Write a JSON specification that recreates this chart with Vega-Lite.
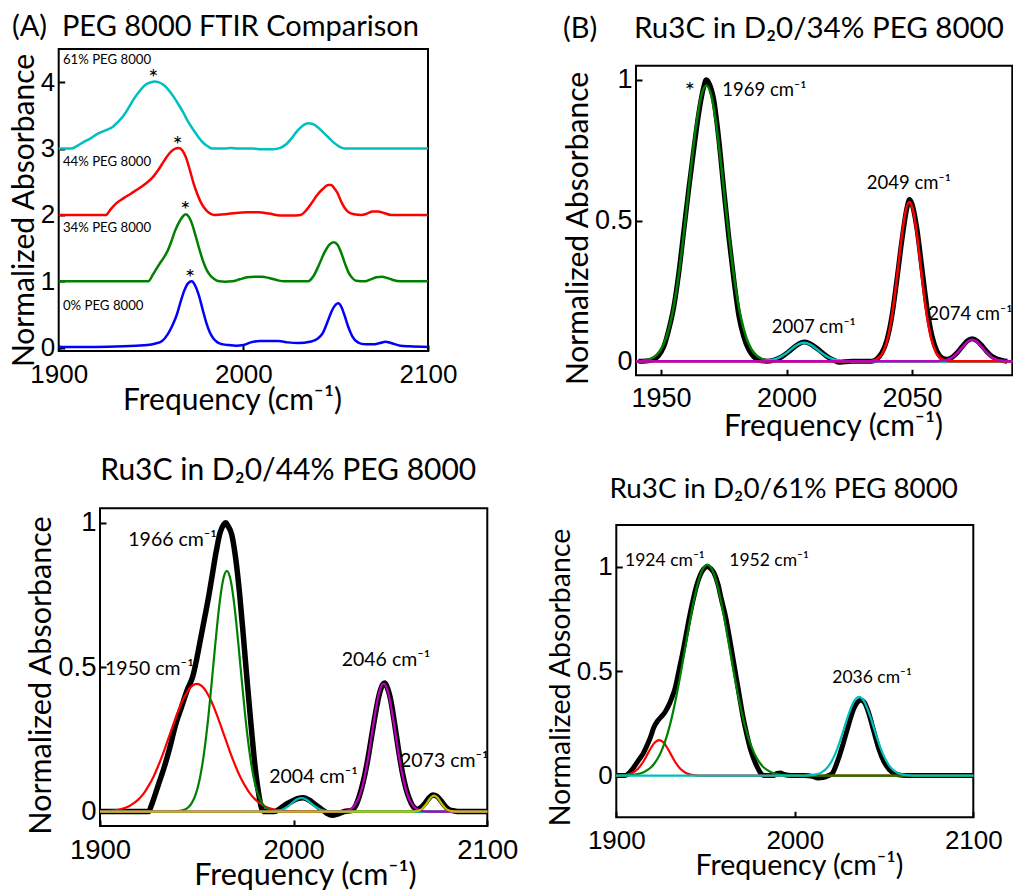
{
"$schema": "https://vega.github.io/schema/vega-lite/v6.json",
"width": 1013, "height": 890, "padding": 0, "autosize": {"type": "none"},
"background": "white",
"config": {
  "view": {"stroke": null},
  "axis": {"grid": false, "domain": false, "labelColor": "black", "titleColor": "black", "tickColor": "black", "tickWidth": 2, "labelFont": "Liberation Sans", "titleFont": "Lato", "titleFontWeight": "normal", "labelFlush": false, "labelOverlap": false},
  "text": {"font": "Lato", "color": "black"}
},
"datasets": {
"a": [
{"s":"0% PEG 8000","f":1900,"v":0.01},{"s":"0% PEG 8000","f":1920,"v":0.01},{"s":"0% PEG 8000","f":1935,"v":0.02},{"s":"0% PEG 8000","f":1942,"v":0.03},{"s":"0% PEG 8000","f":1948,"v":0.04},{"s":"0% PEG 8000","f":1952,"v":0.06},{"s":"0% PEG 8000","f":1956,"v":0.1},{"s":"0% PEG 8000","f":1959,"v":0.2},{"s":"0% PEG 8000","f":1962,"v":0.36},{"s":"0% PEG 8000","f":1964,"v":0.5},{"s":"0% PEG 8000","f":1966,"v":0.69},{"s":"0% PEG 8000","f":1968,"v":0.86},{"s":"0% PEG 8000","f":1970,"v":0.97},{"s":"0% PEG 8000","f":1972,"v":1.0},{"s":"0% PEG 8000","f":1974,"v":0.93},{"s":"0% PEG 8000","f":1976,"v":0.78},{"s":"0% PEG 8000","f":1978,"v":0.57},{"s":"0% PEG 8000","f":1980,"v":0.37},{"s":"0% PEG 8000","f":1982,"v":0.22},{"s":"0% PEG 8000","f":1984,"v":0.13},{"s":"0% PEG 8000","f":1986,"v":0.08},{"s":"0% PEG 8000","f":1989,"v":0.05},{"s":"0% PEG 8000","f":1992,"v":0.04},{"s":"0% PEG 8000","f":1996,"v":0.03},{"s":"0% PEG 8000","f":2000,"v":0.04},{"s":"0% PEG 8000","f":2004,"v":0.08},{"s":"0% PEG 8000","f":2009,"v":0.1},{"s":"0% PEG 8000","f":2014,"v":0.1},{"s":"0% PEG 8000","f":2019,"v":0.1},{"s":"0% PEG 8000","f":2024,"v":0.08},{"s":"0% PEG 8000","f":2030,"v":0.07},{"s":"0% PEG 8000","f":2036,"v":0.09},{"s":"0% PEG 8000","f":2040,"v":0.13},{"s":"0% PEG 8000","f":2043,"v":0.22},{"s":"0% PEG 8000","f":2046,"v":0.42},{"s":"0% PEG 8000","f":2048,"v":0.56},{"s":"0% PEG 8000","f":2050,"v":0.65},{"s":"0% PEG 8000","f":2051.5,"v":0.67},{"s":"0% PEG 8000","f":2053,"v":0.62},{"s":"0% PEG 8000","f":2055,"v":0.47},{"s":"0% PEG 8000","f":2057,"v":0.3},{"s":"0% PEG 8000","f":2059,"v":0.17},{"s":"0% PEG 8000","f":2062,"v":0.08},{"s":"0% PEG 8000","f":2066,"v":0.05},{"s":"0% PEG 8000","f":2070,"v":0.05},{"s":"0% PEG 8000","f":2074,"v":0.07},{"s":"0% PEG 8000","f":2077,"v":0.09},{"s":"0% PEG 8000","f":2080,"v":0.07},{"s":"0% PEG 8000","f":2085,"v":0.03},{"s":"0% PEG 8000","f":2090,"v":0.02},{"s":"0% PEG 8000","f":2100,"v":0.01},
{"s":"34% PEG 8000","f":1900,"v":1.0},{"s":"34% PEG 8000","f":1948.5,"v":1.0},{"s":"34% PEG 8000","f":1951,"v":1.1},{"s":"34% PEG 8000","f":1953,"v":1.19},{"s":"34% PEG 8000","f":1955,"v":1.28},{"s":"34% PEG 8000","f":1957,"v":1.36},{"s":"34% PEG 8000","f":1959,"v":1.46},{"s":"34% PEG 8000","f":1961,"v":1.6},{"s":"34% PEG 8000","f":1963,"v":1.76},{"s":"34% PEG 8000","f":1965,"v":1.88},{"s":"34% PEG 8000","f":1967,"v":1.97},{"s":"34% PEG 8000","f":1968.8,"v":2.01},{"s":"34% PEG 8000","f":1970.5,"v":1.97},{"s":"34% PEG 8000","f":1972,"v":1.88},{"s":"34% PEG 8000","f":1974,"v":1.7},{"s":"34% PEG 8000","f":1976,"v":1.5},{"s":"34% PEG 8000","f":1978,"v":1.32},{"s":"34% PEG 8000","f":1980,"v":1.18},{"s":"34% PEG 8000","f":1982,"v":1.09},{"s":"34% PEG 8000","f":1984,"v":1.04},{"s":"34% PEG 8000","f":1987,"v":1.0},{"s":"34% PEG 8000","f":1990,"v":0.995},{"s":"34% PEG 8000","f":1994,"v":1.0},{"s":"34% PEG 8000","f":1998,"v":1.03},{"s":"34% PEG 8000","f":2002,"v":1.06},{"s":"34% PEG 8000","f":2006,"v":1.07},{"s":"34% PEG 8000","f":2010,"v":1.07},{"s":"34% PEG 8000","f":2014,"v":1.05},{"s":"34% PEG 8000","f":2018,"v":1.02},{"s":"34% PEG 8000","f":2022,"v":1.0},{"s":"34% PEG 8000","f":2035,"v":1.0},{"s":"34% PEG 8000","f":2038,"v":1.08},{"s":"34% PEG 8000","f":2041,"v":1.25},{"s":"34% PEG 8000","f":2044,"v":1.44},{"s":"34% PEG 8000","f":2046.5,"v":1.55},{"s":"34% PEG 8000","f":2049,"v":1.59},{"s":"34% PEG 8000","f":2051,"v":1.55},{"s":"34% PEG 8000","f":2053,"v":1.43},{"s":"34% PEG 8000","f":2055,"v":1.27},{"s":"34% PEG 8000","f":2057,"v":1.13},{"s":"34% PEG 8000","f":2059,"v":1.05},{"s":"34% PEG 8000","f":2061,"v":1.01},{"s":"34% PEG 8000","f":2066,"v":1.0},{"s":"34% PEG 8000","f":2069,"v":1.03},{"s":"34% PEG 8000","f":2072,"v":1.06},{"s":"34% PEG 8000","f":2075,"v":1.07},{"s":"34% PEG 8000","f":2078,"v":1.05},{"s":"34% PEG 8000","f":2081,"v":1.02},{"s":"34% PEG 8000","f":2085,"v":1.0},{"s":"34% PEG 8000","f":2100,"v":1.0},
{"s":"44% PEG 8000","f":1900,"v":2.0},{"s":"44% PEG 8000","f":1925.6,"v":2.0},{"s":"44% PEG 8000","f":1928,"v":2.08},{"s":"44% PEG 8000","f":1931,"v":2.17},{"s":"44% PEG 8000","f":1935,"v":2.25},{"s":"44% PEG 8000","f":1939,"v":2.32},{"s":"44% PEG 8000","f":1943,"v":2.39},{"s":"44% PEG 8000","f":1947,"v":2.47},{"s":"44% PEG 8000","f":1951,"v":2.57},{"s":"44% PEG 8000","f":1954,"v":2.68},{"s":"44% PEG 8000","f":1957,"v":2.81},{"s":"44% PEG 8000","f":1960,"v":2.93},{"s":"44% PEG 8000","f":1962.5,"v":2.99},{"s":"44% PEG 8000","f":1965,"v":3.01},{"s":"44% PEG 8000","f":1967,"v":2.97},{"s":"44% PEG 8000","f":1969,"v":2.86},{"s":"44% PEG 8000","f":1971,"v":2.68},{"s":"44% PEG 8000","f":1973,"v":2.48},{"s":"44% PEG 8000","f":1975,"v":2.32},{"s":"44% PEG 8000","f":1977,"v":2.19},{"s":"44% PEG 8000","f":1979,"v":2.1},{"s":"44% PEG 8000","f":1981,"v":2.04},{"s":"44% PEG 8000","f":1984,"v":2.0},{"s":"44% PEG 8000","f":1990,"v":2.01},{"s":"44% PEG 8000","f":1996,"v":2.03},{"s":"44% PEG 8000","f":2002,"v":2.04},{"s":"44% PEG 8000","f":2008,"v":2.04},{"s":"44% PEG 8000","f":2014,"v":2.02},{"s":"44% PEG 8000","f":2020,"v":1.99},{"s":"44% PEG 8000","f":2026,"v":1.99},{"s":"44% PEG 8000","f":2031,"v":2.0},{"s":"44% PEG 8000","f":2034,"v":2.07},{"s":"44% PEG 8000","f":2037,"v":2.18},{"s":"44% PEG 8000","f":2040,"v":2.3},{"s":"44% PEG 8000","f":2043,"v":2.39},{"s":"44% PEG 8000","f":2046,"v":2.45},{"s":"44% PEG 8000","f":2047.5,"v":2.45},{"s":"44% PEG 8000","f":2049,"v":2.41},{"s":"44% PEG 8000","f":2051,"v":2.33},{"s":"44% PEG 8000","f":2053,"v":2.2},{"s":"44% PEG 8000","f":2055,"v":2.1},{"s":"44% PEG 8000","f":2057,"v":2.04},{"s":"44% PEG 8000","f":2060,"v":2.01},{"s":"44% PEG 8000","f":2064,"v":2.0},{"s":"44% PEG 8000","f":2067,"v":2.02},{"s":"44% PEG 8000","f":2070,"v":2.05},{"s":"44% PEG 8000","f":2073,"v":2.05},{"s":"44% PEG 8000","f":2076,"v":2.03},{"s":"44% PEG 8000","f":2080,"v":2.0},{"s":"44% PEG 8000","f":2100,"v":2.0},
{"s":"61% PEG 8000","f":1900,"v":3.0},{"s":"61% PEG 8000","f":1907,"v":3.0},{"s":"61% PEG 8000","f":1910,"v":3.04},{"s":"61% PEG 8000","f":1913,"v":3.09},{"s":"61% PEG 8000","f":1917,"v":3.15},{"s":"61% PEG 8000","f":1921,"v":3.22},{"s":"61% PEG 8000","f":1925,"v":3.27},{"s":"61% PEG 8000","f":1929,"v":3.32},{"s":"61% PEG 8000","f":1932,"v":3.4},{"s":"61% PEG 8000","f":1935,"v":3.49},{"s":"61% PEG 8000","f":1938,"v":3.62},{"s":"61% PEG 8000","f":1941,"v":3.76},{"s":"61% PEG 8000","f":1944,"v":3.87},{"s":"61% PEG 8000","f":1947,"v":3.96},{"s":"61% PEG 8000","f":1950,"v":4.0},{"s":"61% PEG 8000","f":1952,"v":4.01},{"s":"61% PEG 8000","f":1954,"v":4.0},{"s":"61% PEG 8000","f":1956.7,"v":3.96},{"s":"61% PEG 8000","f":1959,"v":3.9},{"s":"61% PEG 8000","f":1962,"v":3.79},{"s":"61% PEG 8000","f":1965,"v":3.66},{"s":"61% PEG 8000","f":1967.5,"v":3.54},{"s":"61% PEG 8000","f":1970,"v":3.41},{"s":"61% PEG 8000","f":1973,"v":3.28},{"s":"61% PEG 8000","f":1976,"v":3.16},{"s":"61% PEG 8000","f":1978.5,"v":3.08},{"s":"61% PEG 8000","f":1981,"v":3.03},{"s":"61% PEG 8000","f":1983,"v":3.0},{"s":"61% PEG 8000","f":1990,"v":3.0},{"s":"61% PEG 8000","f":1993,"v":3.01},{"s":"61% PEG 8000","f":1997,"v":3.0},{"s":"61% PEG 8000","f":2005,"v":3.0},{"s":"61% PEG 8000","f":2010,"v":2.99},{"s":"61% PEG 8000","f":2016,"v":2.99},{"s":"61% PEG 8000","f":2020,"v":3.01},{"s":"61% PEG 8000","f":2023,"v":3.06},{"s":"61% PEG 8000","f":2026,"v":3.15},{"s":"61% PEG 8000","f":2029,"v":3.26},{"s":"61% PEG 8000","f":2032,"v":3.34},{"s":"61% PEG 8000","f":2035,"v":3.38},{"s":"61% PEG 8000","f":2037.5,"v":3.37},{"s":"61% PEG 8000","f":2040,"v":3.33},{"s":"61% PEG 8000","f":2043,"v":3.25},{"s":"61% PEG 8000","f":2046,"v":3.17},{"s":"61% PEG 8000","f":2049,"v":3.09},{"s":"61% PEG 8000","f":2052,"v":3.03},{"s":"61% PEG 8000","f":2055,"v":3.0},{"s":"61% PEG 8000","f":2100,"v":3.0}
],
"b": [
{"s":"data","f":1941,"v":0},{"s":"data","f":1944,"v":0.001},{"s":"data","f":1947,"v":0.006},{"s":"data","f":1949,"v":0.02},{"s":"data","f":1951,"v":0.05},{"s":"data","f":1953,"v":0.11},{"s":"data","f":1955,"v":0.19},{"s":"data","f":1957,"v":0.31},{"s":"data","f":1959,"v":0.46},{"s":"data","f":1961,"v":0.61},{"s":"data","f":1963,"v":0.75},{"s":"data","f":1965,"v":0.88},{"s":"data","f":1967,"v":0.975},{"s":"data","f":1968,"v":1.0},{"s":"data","f":1969,"v":0.99},{"s":"data","f":1971,"v":0.93},{"s":"data","f":1973,"v":0.79},{"s":"data","f":1975,"v":0.61},{"s":"data","f":1977,"v":0.44},{"s":"data","f":1979,"v":0.29},{"s":"data","f":1981,"v":0.16},{"s":"data","f":1983,"v":0.085},{"s":"data","f":1985,"v":0.04},{"s":"data","f":1987,"v":0.015},{"s":"data","f":1989,"v":0.004},{"s":"data","f":1992,"v":0},{"s":"data","f":1995,"v":0.004},{"s":"data","f":1998,"v":0.015},{"s":"data","f":2001,"v":0.035},{"s":"data","f":2003,"v":0.05},{"s":"data","f":2005,"v":0.062},{"s":"data","f":2007,"v":0.068},{"s":"data","f":2009,"v":0.064},{"s":"data","f":2011,"v":0.053},{"s":"data","f":2013,"v":0.04},{"s":"data","f":2015,"v":0.025},{"s":"data","f":2017,"v":0.012},{"s":"data","f":2019,"v":0.003},{"s":"data","f":2021,"v":-0.004},{"s":"data","f":2023,"v":-0.002},{"s":"data","f":2026,"v":0},{"s":"data","f":2034,"v":0},{"s":"data","f":2036,"v":0.008},{"s":"data","f":2038,"v":0.03},{"s":"data","f":2040,"v":0.075},{"s":"data","f":2042,"v":0.16},{"s":"data","f":2044,"v":0.29},{"s":"data","f":2046,"v":0.43},{"s":"data","f":2048,"v":0.545},{"s":"data","f":2049,"v":0.575},{"s":"data","f":2050,"v":0.56},{"s":"data","f":2052,"v":0.47},{"s":"data","f":2054,"v":0.33},{"s":"data","f":2056,"v":0.19},{"s":"data","f":2058,"v":0.09},{"s":"data","f":2060,"v":0.035},{"s":"data","f":2062,"v":0.012},{"s":"data","f":2064,"v":0.007},{"s":"data","f":2066,"v":0.014},{"s":"data","f":2068,"v":0.03},{"s":"data","f":2070,"v":0.052},{"s":"data","f":2072,"v":0.072},{"s":"data","f":2074,"v":0.08},{"s":"data","f":2076,"v":0.072},{"s":"data","f":2078,"v":0.054},{"s":"data","f":2080,"v":0.033},{"s":"data","f":2082,"v":0.017},{"s":"data","f":2084,"v":0.008},{"s":"data","f":2086,"v":0.003},{"s":"data","f":2088,"v":0},
{"s":"1969","f":1940,"v":0},{"s":"1969","f":1943,"v":0.002},{"s":"1969","f":1946,"v":0.009},{"s":"1969","f":1948,"v":0.021},{"s":"1969","f":1950,"v":0.043},{"s":"1969","f":1952,"v":0.083},{"s":"1969","f":1954,"v":0.148},{"s":"1969","f":1956,"v":0.244},{"s":"1969","f":1958,"v":0.374},{"s":"1969","f":1960,"v":0.528},{"s":"1969","f":1962,"v":0.693},{"s":"1969","f":1964,"v":0.84},{"s":"1969","f":1966,"v":0.943},{"s":"1969","f":1968,"v":0.98},{"s":"1969","f":1970,"v":0.943},{"s":"1969","f":1972,"v":0.84},{"s":"1969","f":1974,"v":0.693},{"s":"1969","f":1976,"v":0.528},{"s":"1969","f":1978,"v":0.374},{"s":"1969","f":1980,"v":0.244},{"s":"1969","f":1982,"v":0.148},{"s":"1969","f":1984,"v":0.083},{"s":"1969","f":1986,"v":0.043},{"s":"1969","f":1988,"v":0.021},{"s":"1969","f":1990,"v":0.009},{"s":"1969","f":1993,"v":0.002},{"s":"1969","f":1996,"v":0},{"s":"1969","f":2090,"v":0},
{"s":"2007","f":1940,"v":0},{"s":"2007","f":1991,"v":0},{"s":"2007","f":1993,"v":0.0026},{"s":"2007","f":1995,"v":0.0061},{"s":"2007","f":1997,"v":0.0127},{"s":"2007","f":1999,"v":0.023},{"s":"2007","f":2001,"v":0.0365},{"s":"2007","f":2003,"v":0.0507},{"s":"2007","f":2005,"v":0.0617},{"s":"2007","f":2007,"v":0.066},{"s":"2007","f":2009,"v":0.0617},{"s":"2007","f":2011,"v":0.0507},{"s":"2007","f":2013,"v":0.0365},{"s":"2007","f":2015,"v":0.023},{"s":"2007","f":2017,"v":0.0127},{"s":"2007","f":2019,"v":0.0061},{"s":"2007","f":2021,"v":0.0026},{"s":"2007","f":2023,"v":0},{"s":"2007","f":2090,"v":0},
{"s":"2049","f":1940,"v":0},{"s":"2049","f":2033,"v":0},{"s":"2049","f":2035,"v":0.004},{"s":"2049","f":2037,"v":0.014},{"s":"2049","f":2038.5,"v":0.033},{"s":"2049","f":2040,"v":0.07},{"s":"2049","f":2041.5,"v":0.132},{"s":"2049","f":2043,"v":0.223},{"s":"2049","f":2044.5,"v":0.335},{"s":"2049","f":2046,"v":0.449},{"s":"2049","f":2047.5,"v":0.534},{"s":"2049","f":2049,"v":0.566},{"s":"2049","f":2050.5,"v":0.534},{"s":"2049","f":2052,"v":0.449},{"s":"2049","f":2053.5,"v":0.335},{"s":"2049","f":2055,"v":0.223},{"s":"2049","f":2056.5,"v":0.132},{"s":"2049","f":2058,"v":0.07},{"s":"2049","f":2059.5,"v":0.033},{"s":"2049","f":2061,"v":0.014},{"s":"2049","f":2063,"v":0.004},{"s":"2049","f":2065,"v":0},{"s":"2049","f":2090,"v":0},
{"s":"2074","f":1940,"v":0},{"s":"2074","f":2060,"v":0},{"s":"2074","f":2062,"v":0.002},{"s":"2074","f":2064,"v":0.005},{"s":"2074","f":2066,"v":0.013},{"s":"2074","f":2068,"v":0.029},{"s":"2074","f":2070,"v":0.049},{"s":"2074","f":2072,"v":0.068},{"s":"2074","f":2074,"v":0.076},{"s":"2074","f":2076,"v":0.068},{"s":"2074","f":2078,"v":0.049},{"s":"2074","f":2080,"v":0.029},{"s":"2074","f":2082,"v":0.013},{"s":"2074","f":2084,"v":0.005},{"s":"2074","f":2086,"v":0.002},{"s":"2074","f":2088,"v":0},{"s":"2074","f":2090,"v":0}
],
"c": [
{"s":"data","f":1900,"v":0},{"s":"data","f":1925,"v":0},{"s":"data","f":1927,"v":0.03},{"s":"data","f":1930,"v":0.09},{"s":"data","f":1933,"v":0.15},{"s":"data","f":1936,"v":0.22},{"s":"data","f":1939,"v":0.3},{"s":"data","f":1942,"v":0.36},{"s":"data","f":1945,"v":0.42},{"s":"data","f":1948,"v":0.47},{"s":"data","f":1950,"v":0.53},{"s":"data","f":1952,"v":0.6},{"s":"data","f":1954,"v":0.67},{"s":"data","f":1956,"v":0.74},{"s":"data","f":1958,"v":0.82},{"s":"data","f":1960,"v":0.9},{"s":"data","f":1962,"v":0.965},{"s":"data","f":1964,"v":0.995},{"s":"data","f":1965,"v":1.0},{"s":"data","f":1966,"v":0.99},{"s":"data","f":1968,"v":0.96},{"s":"data","f":1970,"v":0.88},{"s":"data","f":1972,"v":0.76},{"s":"data","f":1974,"v":0.61},{"s":"data","f":1976,"v":0.45},{"s":"data","f":1978,"v":0.3},{"s":"data","f":1980,"v":0.16},{"s":"data","f":1982,"v":0.06},{"s":"data","f":1983.5,"v":0.01},{"s":"data","f":1985,"v":0},{"s":"data","f":1990,"v":0},{"s":"data","f":1993,"v":0.01},{"s":"data","f":1996,"v":0.025},{"s":"data","f":1999,"v":0.035},{"s":"data","f":2002,"v":0.045},{"s":"data","f":2005,"v":0.048},{"s":"data","f":2008,"v":0.04},{"s":"data","f":2011,"v":0.025},{"s":"data","f":2014,"v":0.01},{"s":"data","f":2017,"v":-0.005},{"s":"data","f":2020,"v":-0.013},{"s":"data","f":2023,"v":-0.008},{"s":"data","f":2026,"v":0},{"s":"data","f":2030,"v":0.004},{"s":"data","f":2032,"v":0.02},{"s":"data","f":2034,"v":0.055},{"s":"data","f":2036,"v":0.105},{"s":"data","f":2038,"v":0.17},{"s":"data","f":2040,"v":0.25},{"s":"data","f":2042,"v":0.33},{"s":"data","f":2044,"v":0.4},{"s":"data","f":2046,"v":0.44},{"s":"data","f":2047,"v":0.445},{"s":"data","f":2048,"v":0.435},{"s":"data","f":2050,"v":0.39},{"s":"data","f":2052,"v":0.31},{"s":"data","f":2054,"v":0.22},{"s":"data","f":2056,"v":0.14},{"s":"data","f":2058,"v":0.08},{"s":"data","f":2060,"v":0.04},{"s":"data","f":2062,"v":0.015},{"s":"data","f":2064,"v":0.008},{"s":"data","f":2066,"v":0.015},{"s":"data","f":2068,"v":0.03},{"s":"data","f":2070,"v":0.048},{"s":"data","f":2072,"v":0.057},{"s":"data","f":2074,"v":0.053},{"s":"data","f":2076,"v":0.038},{"s":"data","f":2078,"v":0.02},{"s":"data","f":2080,"v":0.008},{"s":"data","f":2083,"v":0.002},{"s":"data","f":2086,"v":0},{"s":"data","f":2100,"v":0},
{"s":"1950","f":1900,"v":0.0007},{"s":"1950","f":1905,"v":0.0023},{"s":"1950","f":1910,"v":0.007},{"s":"1950","f":1915,"v":0.0186},{"s":"1950","f":1917.5,"v":0.029},{"s":"1950","f":1920,"v":0.043},{"s":"1950","f":1922.5,"v":0.062},{"s":"1950","f":1925,"v":0.088},{"s":"1950","f":1927.5,"v":0.119},{"s":"1950","f":1930,"v":0.157},{"s":"1950","f":1932.5,"v":0.2},{"s":"1950","f":1935,"v":0.247},{"s":"1950","f":1937.5,"v":0.295},{"s":"1950","f":1940,"v":0.341},{"s":"1950","f":1942.5,"v":0.382},{"s":"1950","f":1945,"v":0.414},{"s":"1950","f":1947.5,"v":0.435},{"s":"1950","f":1950,"v":0.442},{"s":"1950","f":1952.5,"v":0.435},{"s":"1950","f":1955,"v":0.414},{"s":"1950","f":1957.5,"v":0.382},{"s":"1950","f":1960,"v":0.341},{"s":"1950","f":1962.5,"v":0.295},{"s":"1950","f":1965,"v":0.247},{"s":"1950","f":1967.5,"v":0.2},{"s":"1950","f":1970,"v":0.157},{"s":"1950","f":1972.5,"v":0.119},{"s":"1950","f":1975,"v":0.088},{"s":"1950","f":1977.5,"v":0.062},{"s":"1950","f":1980,"v":0.043},{"s":"1950","f":1982.5,"v":0.029},{"s":"1950","f":1985,"v":0.0186},{"s":"1950","f":1990,"v":0.007},{"s":"1950","f":1995,"v":0.0023},{"s":"1950","f":2000,"v":0.0007},{"s":"1950","f":2005,"v":0},{"s":"1950","f":2100,"v":0},
{"s":"1966","f":1900,"v":0},{"s":"1966","f":1935,"v":0},{"s":"1966","f":1940.5,"v":0.0014},{"s":"1966","f":1943.5,"v":0.006},{"s":"1966","f":1945.5,"v":0.014},{"s":"1966","f":1947.5,"v":0.031},{"s":"1966","f":1949.5,"v":0.061},{"s":"1966","f":1951.5,"v":0.113},{"s":"1966","f":1953.5,"v":0.192},{"s":"1966","f":1955.5,"v":0.3},{"s":"1966","f":1957.5,"v":0.434},{"s":"1966","f":1959.5,"v":0.577},{"s":"1966","f":1961.5,"v":0.708},{"s":"1966","f":1963.5,"v":0.8},{"s":"1966","f":1965.5,"v":0.833},{"s":"1966","f":1967.5,"v":0.8},{"s":"1966","f":1969.5,"v":0.708},{"s":"1966","f":1971.5,"v":0.577},{"s":"1966","f":1973.5,"v":0.434},{"s":"1966","f":1975.5,"v":0.3},{"s":"1966","f":1977.5,"v":0.192},{"s":"1966","f":1979.5,"v":0.113},{"s":"1966","f":1981.5,"v":0.061},{"s":"1966","f":1983.5,"v":0.031},{"s":"1966","f":1985.5,"v":0.014},{"s":"1966","f":1987.5,"v":0.006},{"s":"1966","f":1990.5,"v":0.0014},{"s":"1966","f":1995,"v":0},{"s":"1966","f":2100,"v":0},
{"s":"2004","f":1900,"v":0},{"s":"2004","f":1988,"v":0},{"s":"2004","f":1990,"v":0.0009},{"s":"2004","f":1992,"v":0.0026},{"s":"2004","f":1994,"v":0.0064},{"s":"2004","f":1996,"v":0.0131},{"s":"2004","f":1998,"v":0.0229},{"s":"2004","f":2000,"v":0.0341},{"s":"2004","f":2002,"v":0.0434},{"s":"2004","f":2004,"v":0.047},{"s":"2004","f":2006,"v":0.0434},{"s":"2004","f":2008,"v":0.0341},{"s":"2004","f":2010,"v":0.0229},{"s":"2004","f":2012,"v":0.0131},{"s":"2004","f":2014,"v":0.0064},{"s":"2004","f":2016,"v":0.0026},{"s":"2004","f":2018,"v":0.0009},{"s":"2004","f":2020,"v":0},{"s":"2004","f":2100,"v":0},
{"s":"2046","f":1900,"v":0},{"s":"2046","f":2024,"v":0},{"s":"2046","f":2026.5,"v":0.002},{"s":"2046","f":2028.5,"v":0.0057},{"s":"2046","f":2030.5,"v":0.014},{"s":"2046","f":2032.5,"v":0.032},{"s":"2046","f":2034.5,"v":0.064},{"s":"2046","f":2036.5,"v":0.116},{"s":"2046","f":2038.5,"v":0.187},{"s":"2046","f":2040.5,"v":0.273},{"s":"2046","f":2042.5,"v":0.357},{"s":"2046","f":2044.5,"v":0.42},{"s":"2046","f":2046.5,"v":0.443},{"s":"2046","f":2048.5,"v":0.42},{"s":"2046","f":2050.5,"v":0.357},{"s":"2046","f":2052.5,"v":0.273},{"s":"2046","f":2054.5,"v":0.187},{"s":"2046","f":2056.5,"v":0.116},{"s":"2046","f":2058.5,"v":0.064},{"s":"2046","f":2060.5,"v":0.032},{"s":"2046","f":2062.5,"v":0.014},{"s":"2046","f":2064.5,"v":0.0057},{"s":"2046","f":2066.5,"v":0.002},{"s":"2046","f":2069,"v":0},{"s":"2046","f":2100,"v":0},
{"s":"2073","f":1900,"v":0},{"s":"2073","f":2061.5,"v":0},{"s":"2073","f":2063.5,"v":0.0013},{"s":"2073","f":2065,"v":0.0042},{"s":"2073","f":2066.5,"v":0.0106},{"s":"2073","f":2068,"v":0.0217},{"s":"2073","f":2069.5,"v":0.0364},{"s":"2073","f":2071,"v":0.0496},{"s":"2073","f":2072.5,"v":0.055},{"s":"2073","f":2074,"v":0.0496},{"s":"2073","f":2075.5,"v":0.0364},{"s":"2073","f":2077,"v":0.0217},{"s":"2073","f":2078.5,"v":0.0106},{"s":"2073","f":2080,"v":0.0042},{"s":"2073","f":2081.5,"v":0.0013},{"s":"2073","f":2083.5,"v":0},{"s":"2073","f":2100,"v":0}
],
"d": [
{"s":"data","f":1900,"v":0},{"s":"data","f":1905,"v":0},{"s":"data","f":1907,"v":0.01},{"s":"data","f":1909,"v":0.03},{"s":"data","f":1911,"v":0.055},{"s":"data","f":1913,"v":0.08},{"s":"data","f":1915,"v":0.105},{"s":"data","f":1917,"v":0.14},{"s":"data","f":1919,"v":0.18},{"s":"data","f":1921,"v":0.23},{"s":"data","f":1923,"v":0.26},{"s":"data","f":1925,"v":0.28},{"s":"data","f":1927,"v":0.3},{"s":"data","f":1929,"v":0.33},{"s":"data","f":1931,"v":0.37},{"s":"data","f":1933,"v":0.42},{"s":"data","f":1935,"v":0.5},{"s":"data","f":1937,"v":0.58},{"s":"data","f":1939,"v":0.67},{"s":"data","f":1941,"v":0.76},{"s":"data","f":1943,"v":0.84},{"s":"data","f":1945,"v":0.91},{"s":"data","f":1947,"v":0.96},{"s":"data","f":1949,"v":0.99},{"s":"data","f":1951,"v":1.0},{"s":"data","f":1953,"v":0.99},{"s":"data","f":1955,"v":0.965},{"s":"data","f":1957,"v":0.915},{"s":"data","f":1959,"v":0.84},{"s":"data","f":1961,"v":0.77},{"s":"data","f":1963,"v":0.68},{"s":"data","f":1965,"v":0.58},{"s":"data","f":1967,"v":0.48},{"s":"data","f":1969,"v":0.38},{"s":"data","f":1971,"v":0.28},{"s":"data","f":1973,"v":0.2},{"s":"data","f":1975,"v":0.13},{"s":"data","f":1977,"v":0.08},{"s":"data","f":1979,"v":0.04},{"s":"data","f":1981,"v":0.01},{"s":"data","f":1982.5,"v":0},{"s":"data","f":1988,"v":0},{"s":"data","f":1990,"v":0.01},{"s":"data","f":1992,"v":0.012},{"s":"data","f":1994,"v":0.005},{"s":"data","f":1998,"v":0},{"s":"data","f":2005,"v":0},{"s":"data","f":2010,"v":-0.004},{"s":"data","f":2013,"v":-0.012},{"s":"data","f":2016,"v":-0.01},{"s":"data","f":2019,"v":0},{"s":"data","f":2021,"v":0.01},{"s":"data","f":2024,"v":0.07},{"s":"data","f":2027,"v":0.15},{"s":"data","f":2030,"v":0.24},{"s":"data","f":2033,"v":0.32},{"s":"data","f":2035,"v":0.35},{"s":"data","f":2037,"v":0.361},{"s":"data","f":2039,"v":0.35},{"s":"data","f":2041,"v":0.31},{"s":"data","f":2044,"v":0.22},{"s":"data","f":2047,"v":0.13},{"s":"data","f":2050,"v":0.065},{"s":"data","f":2053,"v":0.028},{"s":"data","f":2056,"v":0.01},{"s":"data","f":2059,"v":0.002},{"s":"data","f":2062,"v":0},{"s":"data","f":2100,"v":0},
{"s":"1924","f":1900,"v":0},{"s":"1924","f":1903,"v":0.0009},{"s":"1924","f":1906,"v":0.0037},{"s":"1924","f":1909,"v":0.012},{"s":"1924","f":1912,"v":0.031},{"s":"1924","f":1915,"v":0.065},{"s":"1924","f":1918,"v":0.111},{"s":"1924","f":1921,"v":0.153},{"s":"1924","f":1924,"v":0.17},{"s":"1924","f":1927,"v":0.153},{"s":"1924","f":1930,"v":0.111},{"s":"1924","f":1933,"v":0.065},{"s":"1924","f":1936,"v":0.031},{"s":"1924","f":1939,"v":0.012},{"s":"1924","f":1942,"v":0.0037},{"s":"1924","f":1945,"v":0.0009},{"s":"1924","f":1948,"v":0},{"s":"1924","f":2100,"v":0},
{"s":"1952","f":1900,"v":0},{"s":"1952","f":1901,"v":0.0003},{"s":"1952","f":1907,"v":0.002},{"s":"1952","f":1911,"v":0.0056},{"s":"1952","f":1915,"v":0.015},{"s":"1952","f":1919,"v":0.036},{"s":"1952","f":1921,"v":0.054},{"s":"1952","f":1923,"v":0.079},{"s":"1952","f":1925,"v":0.112},{"s":"1952","f":1927,"v":0.155},{"s":"1952","f":1929,"v":0.209},{"s":"1952","f":1931,"v":0.275},{"s":"1952","f":1933,"v":0.352},{"s":"1952","f":1935,"v":0.439},{"s":"1952","f":1937,"v":0.534},{"s":"1952","f":1939,"v":0.632},{"s":"1952","f":1941,"v":0.73},{"s":"1952","f":1943,"v":0.82},{"s":"1952","f":1945,"v":0.898},{"s":"1952","f":1947,"v":0.959},{"s":"1952","f":1949,"v":0.997},{"s":"1952","f":1951,"v":1.01},{"s":"1952","f":1953,"v":0.997},{"s":"1952","f":1955,"v":0.959},{"s":"1952","f":1957,"v":0.898},{"s":"1952","f":1959,"v":0.82},{"s":"1952","f":1961,"v":0.73},{"s":"1952","f":1963,"v":0.632},{"s":"1952","f":1965,"v":0.534},{"s":"1952","f":1967,"v":0.439},{"s":"1952","f":1969,"v":0.352},{"s":"1952","f":1971,"v":0.275},{"s":"1952","f":1973,"v":0.209},{"s":"1952","f":1975,"v":0.155},{"s":"1952","f":1977,"v":0.112},{"s":"1952","f":1979,"v":0.079},{"s":"1952","f":1981,"v":0.054},{"s":"1952","f":1983,"v":0.036},{"s":"1952","f":1987,"v":0.015},{"s":"1952","f":1991,"v":0.0056},{"s":"1952","f":1995,"v":0.002},{"s":"1952","f":2001,"v":0.0003},{"s":"1952","f":2008,"v":0},{"s":"1952","f":2100,"v":0},
{"s":"2036","f":1900,"v":0},{"s":"2036","f":2006,"v":0},{"s":"2036","f":2009,"v":0.0019},{"s":"2036","f":2012,"v":0.0058},{"s":"2036","f":2015,"v":0.015},{"s":"2036","f":2018,"v":0.036},{"s":"2036","f":2021,"v":0.074},{"s":"2036","f":2024,"v":0.133},{"s":"2036","f":2027,"v":0.209},{"s":"2036","f":2030,"v":0.29},{"s":"2036","f":2033,"v":0.353},{"s":"2036","f":2036,"v":0.377},{"s":"2036","f":2039,"v":0.353},{"s":"2036","f":2042,"v":0.29},{"s":"2036","f":2045,"v":0.209},{"s":"2036","f":2048,"v":0.133},{"s":"2036","f":2051,"v":0.074},{"s":"2036","f":2054,"v":0.036},{"s":"2036","f":2057,"v":0.015},{"s":"2036","f":2060,"v":0.0058},{"s":"2036","f":2063,"v":0.0019},{"s":"2036","f":2066,"v":0},{"s":"2036","f":2100,"v":0}
]
},
"layer": [
{
 "encoding": {
  "x": {"field": "f", "type": "quantitative", "scale": {"domain": [1900, 2100], "range": [58.7, 428], "nice": false, "zero": false},
        "axis": {"orient": "bottom", "offset": -539, "values": [1900, 2000, 2100], "format": "d", "title": "Frequency (cm⁻¹)", "labelFont": "Liberation Sans", "labelFontSize": 26, "titleFontSize": 30, "tickSize": -6, "labelPadding": 16, "titlePadding": -2, "titleX": 232}},
  "y": {"field": "v", "type": "quantitative", "scale": {"domain": [-0.05, 4.5], "range": [351, 49], "nice": false, "zero": false},
        "axis": {"orient": "left", "offset": -58.7, "values": [0, 1, 2, 3, 4], "format": "~g", "title": "Normalized Absorbance", "labelFont": "Liberation Sans", "labelFontSize": 26, "titleFontSize": 30, "tickSize": -6, "labelPadding": 10, "titlePadding": 1, "titleY": 210}}
 },
 "layer": [
  {"data": {"values": [{"f": 1900, "f2": 2100, "v": -0.05, "v2": 4.5}]}, "mark": {"type": "rect", "fillOpacity": 0, "stroke": "black", "strokeWidth": 2}, "encoding": {"x2": {"field": "f2"}, "y2": {"field": "v2"}}},
  {"data": {"name": "a"}, "mark": {"type": "line", "strokeWidth": 2.5, "interpolate": "monotone"},
   "encoding": {"color": {"field": "s", "type": "nominal", "legend": null, "scale": {"domain": ["0% PEG 8000", "34% PEG 8000", "44% PEG 8000", "61% PEG 8000"], "range": ["#0000ff", "#008000", "#ff0000", "#00bfbf"]}}}},
  {"data": {"values": [{"f": 1902.3, "v": 4.335, "t": "61% PEG 8000"}, {"f": 1902.3, "v": 2.802, "t": "44% PEG 8000"}, {"f": 1902.3, "v": 1.799, "t": "34% PEG 8000"}, {"f": 1902.3, "v": 0.628, "t": "0% PEG 8000"}]},
   "mark": {"type": "text", "align": "left", "baseline": "middle", "fontSize": 13.2}, "encoding": {"text": {"field": "t"}}},
  {"data": {"values": [{"f": 1951.3, "v": 4.143, "t": "*"}, {"f": 1964.4, "v": 3.129, "t": "*"}, {"f": 1968.6, "v": 2.15, "t": "*"}, {"f": 1971.1, "v": 1.121, "t": "*"}]},
   "mark": {"type": "text", "align": "center", "baseline": "middle", "fontSize": 24, "dy": 6}, "encoding": {"text": {"field": "t"}}},
  {"data": {"values": [{"f": 1874.7, "v": 4.824, "t": "(A)\u00a0\u00a0PEG 8000 FTIR Comparison"}]},
   "mark": {"type": "text", "align": "left", "baseline": "middle", "fontSize": 29}, "encoding": {"text": {"field": "t"}}}
 ]
},
{
 "encoding": {
  "x": {"field": "f", "type": "quantitative", "scale": {"domain": [1940, 2090], "range": [636, 1012.3], "nice": false, "zero": false},
        "axis": {"orient": "bottom", "offset": -514.7, "values": [1950, 2000, 2050], "format": "d", "title": "Frequency (cm⁻¹)", "labelFont": "Liberation Sans", "labelFontSize": 27, "titleFontSize": 30, "tickSize": -6, "labelPadding": 16, "titlePadding": 0, "titleX": 833}},
  "y": {"field": "v", "type": "quantitative", "scale": {"domain": [-0.05, 1.05], "range": [375.3, 65.7], "nice": false, "zero": false},
        "axis": {"orient": "left", "offset": -636, "values": [0, 0.5, 1], "format": "~g", "title": "Normalized Absorbance", "labelFont": "Liberation Sans", "labelFontSize": 27, "titleFontSize": 30, "tickSize": -6, "labelPadding": 10, "titlePadding": 1, "titleY": 228}}
 },
 "layer": [
  {"data": {"values": [{"f": 1940, "f2": 2090, "v": -0.05, "v2": 1.05}]}, "mark": {"type": "rect", "fillOpacity": 0, "stroke": "black", "strokeWidth": 2}, "encoding": {"x2": {"field": "f2"}, "y2": {"field": "v2"}}},
  {"data": {"name": "b"}, "transform": [{"filter": "datum.s === 'data'"}], "mark": {"type": "line", "strokeWidth": 5, "color": "black", "interpolate": "monotone"}},
  {"data": {"name": "b"}, "transform": [{"filter": "datum.s !== 'data'"}], "mark": {"type": "line", "strokeWidth": 2.5, "interpolate": "monotone"},
   "encoding": {"color": {"field": "s", "type": "nominal", "legend": null, "scale": {"domain": ["1969", "2007", "2049", "2074"], "range": ["#008000", "#00bfbf", "#ff0000", "#bf00bf"]}}}},
  {"data": {"values": [{"f": 1974.4, "v": 0.964, "t": "1969 cm⁻¹"}, {"f": 1994.1, "v": 0.121, "t": "2007 cm⁻¹"}, {"f": 2032, "v": 0.632, "t": "2049 cm⁻¹"}, {"f": 2056.5, "v": 0.169, "t": "2074 cm⁻¹"}]},
   "mark": {"type": "text", "align": "left", "baseline": "middle", "fontSize": 18.5}, "encoding": {"text": {"field": "t"}}},
  {"data": {"values": [{"f": 1961.5, "v": 0.979, "t": "*"}]},
   "mark": {"type": "text", "align": "center", "baseline": "middle", "fontSize": 24, "dy": 6}, "encoding": {"text": {"field": "t"}}},
  {"data": {"values": [{"f": 1910.9, "v": 1.179, "t": "(B)"}]},
   "mark": {"type": "text", "align": "left", "baseline": "middle", "fontSize": 29}, "encoding": {"text": {"field": "t"}}},
  {"data": {"values": [{"f": 2012.9, "v": 1.179, "t": "Ru3C in D₂0/34% PEG 8000"}]},
   "mark": {"type": "text", "align": "center", "baseline": "middle", "fontSize": 29.5}, "encoding": {"text": {"field": "t"}}}
 ]
},
{
 "encoding": {
  "x": {"field": "f", "type": "quantitative", "scale": {"domain": [1900, 2100], "range": [100, 487.3], "nice": false, "zero": false},
        "axis": {"orient": "bottom", "offset": -64, "values": [1900, 2000, 2100], "format": "d", "title": "Frequency (cm⁻¹)", "labelFont": "Liberation Sans", "labelFontSize": 27.5, "titleFontSize": 30.5, "tickSize": -6, "labelPadding": 16, "titlePadding": -3, "titleX": 305}},
  "y": {"field": "v", "type": "quantitative", "scale": {"domain": [-0.05, 1.05], "range": [826, 508.3], "nice": false, "zero": false},
        "axis": {"orient": "left", "offset": -100, "values": [0, 0.5, 1], "format": "~g", "title": "Normalized Absorbance", "labelFont": "Liberation Sans", "labelFontSize": 27.5, "titleFontSize": 30.5, "tickSize": -6, "labelPadding": 10, "titlePadding": 1, "titleY": 675}}
 },
 "layer": [
  {"data": {"values": [{"f": 1900, "f2": 2100, "v": -0.05, "v2": 1.05}]}, "mark": {"type": "rect", "fillOpacity": 0, "stroke": "black", "strokeWidth": 2}, "encoding": {"x2": {"field": "f2"}, "y2": {"field": "v2"}}},
  {"data": {"name": "c"}, "transform": [{"filter": "datum.s === 'data'"}], "mark": {"type": "line", "strokeWidth": 5.5, "color": "black", "interpolate": "monotone"}},
  {"data": {"name": "c"}, "transform": [{"filter": "datum.s !== 'data'"}], "mark": {"type": "line", "strokeWidth": 2.2, "interpolate": "monotone"},
   "encoding": {"color": {"field": "s", "type": "nominal", "legend": null, "scale": {"domain": ["1950", "1966", "2004", "2046", "2073"], "range": ["#ff0000", "#008000", "#00bfbf", "#bf00bf", "#bfbf00"]}}}},
  {"data": {"values": [{"f": 1914.6, "v": 0.94, "t": "1966 cm⁻¹"}, {"f": 1902.6, "v": 0.493, "t": "1950 cm⁻¹"}, {"f": 1987.4, "v": 0.121, "t": "2004 cm⁻¹"}, {"f": 2024.8, "v": 0.525, "t": "2046 cm⁻¹"}, {"f": 2054.9, "v": 0.176, "t": "2073 cm⁻¹"}]},
   "mark": {"type": "text", "align": "left", "baseline": "middle", "fontSize": 19.5}, "encoding": {"text": {"field": "t"}}},
  {"data": {"values": [{"f": 1997.2, "v": 1.18, "t": "Ru3C in D₂0/44% PEG 8000"}]},
   "mark": {"type": "text", "align": "center", "baseline": "middle", "fontSize": 30}, "encoding": {"text": {"field": "t"}}}
 ]
},
{
 "encoding": {
  "x": {"field": "f", "type": "quantitative", "scale": {"domain": [1900, 2100], "range": [616.3, 973.3], "nice": false, "zero": false},
        "axis": {"orient": "bottom", "offset": -72.7, "values": [1900, 2000, 2100], "format": "d", "title": "Frequency (cm⁻¹)", "labelFont": "Liberation Sans", "labelFontSize": 26, "titleFontSize": 28.5, "tickSize": -6, "labelPadding": 16, "titlePadding": -2, "titleX": 799}},
  "y": {"field": "v", "type": "quantitative", "scale": {"domain": [-0.2, 1.2], "range": [817.3, 525], "nice": false, "zero": false},
        "axis": {"orient": "left", "offset": -616.3, "values": [0, 0.5, 1], "format": "~g", "title": "Normalized Absorbance", "labelFont": "Liberation Sans", "labelFontSize": 26, "titleFontSize": 28.5, "tickSize": -6, "labelPadding": 10, "titlePadding": 1, "titleY": 677}}
 },
 "layer": [
  {"data": {"values": [{"f": 1900, "f2": 2100, "v": -0.2, "v2": 1.2}]}, "mark": {"type": "rect", "fillOpacity": 0, "stroke": "black", "strokeWidth": 2}, "encoding": {"x2": {"field": "f2"}, "y2": {"field": "v2"}}},
  {"data": {"name": "d"}, "transform": [{"filter": "datum.s === 'data'"}], "mark": {"type": "line", "strokeWidth": 5, "color": "black", "interpolate": "monotone"}},
  {"data": {"name": "d"}, "transform": [{"filter": "datum.s !== 'data'"}], "mark": {"type": "line", "strokeWidth": 2.2, "interpolate": "monotone"},
   "encoding": {"color": {"field": "s", "type": "nominal", "legend": null, "scale": {"domain": ["1924", "1952", "2036"], "range": ["#ff0000", "#008000", "#00bfbf"]}}}},
  {"data": {"values": [{"f": 1904.9, "v": 1.029, "t": "1924 cm⁻¹"}, {"f": 1963.3, "v": 1.029, "t": "1952 cm⁻¹"}, {"f": 2021, "v": 0.466, "t": "2036 cm⁻¹"}]},
   "mark": {"type": "text", "align": "left", "baseline": "middle", "fontSize": 17.5}, "encoding": {"text": {"field": "t"}}},
  {"data": {"values": [{"f": 1993.8, "v": 1.368, "t": "Ru3C in D₂0/61% PEG 8000"}]},
   "mark": {"type": "text", "align": "center", "baseline": "middle", "fontSize": 27.8}, "encoding": {"text": {"field": "t"}}}
 ]
}
],
"resolve": {"scale": {"x": "independent", "y": "independent", "color": "independent"}}
}
